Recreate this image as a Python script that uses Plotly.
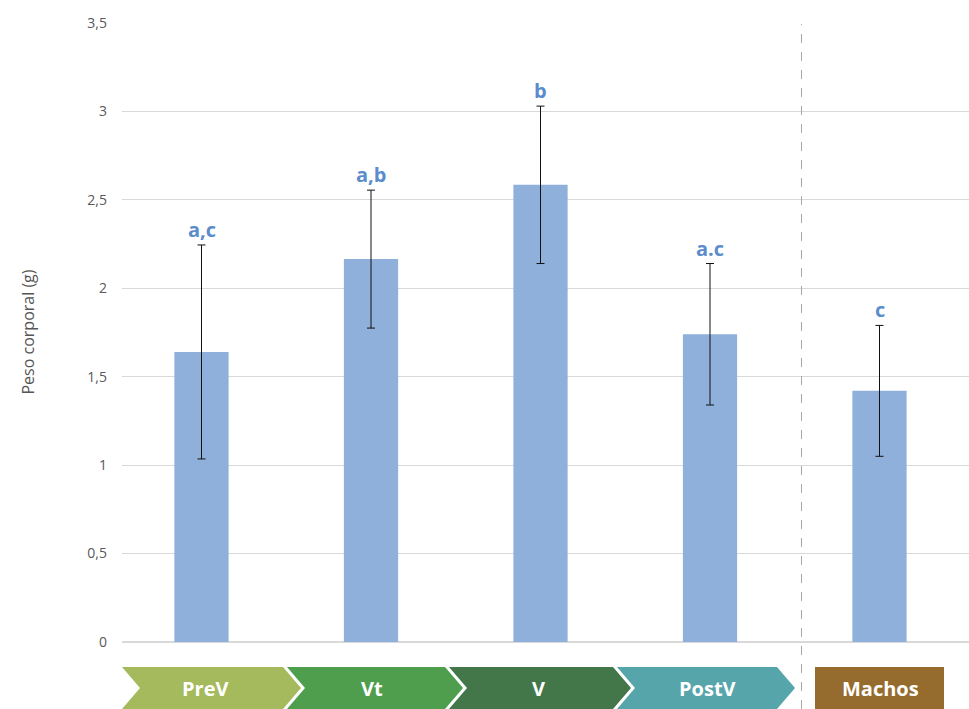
import plotly.graph_objects as go

categories = ["PreV", "Vt", "V", "PostV", "Machos"]
means = [1.64, 2.165, 2.585, 1.74, 1.42]
errors = [0.605, 0.39, 0.445, 0.40, 0.37]
letters = ["a,c", "a,b", "b", "a.c", "c"]
stage_colors = ["#A4BA5C", "#4E9E4E", "#437749", "#55A5AB", "#966C2E"]
y_ticks = [0, 0.5, 1, 1.5, 2, 2.5, 3, 3.5]

W, H = 969, 709
L, R, T, B = 122, 0, 23, 67
pw = W - L - R
ph = H - T - B

def px_x(p):
    return (p - L) / pw

def px_y(p):
    return (H - B - p) / ph

fig = go.Figure()
fig.add_trace(go.Bar(
    x=list(range(len(categories))), y=means,
    width=0.32,
    marker=dict(color="#8FB0DA", line=dict(width=0)),
    error_y=dict(type="data", array=errors, visible=True, color="#111111",
                 thickness=1, width=4),
    hoverinfo="skip", showlegend=False,
))

for i, (m, e, lt) in enumerate(zip(means, errors, letters)):
    fig.add_annotation(x=i, y=m + e, text=f"<b>{lt}</b>", showarrow=False,
                       xanchor="center", yanchor="bottom", yshift=0,
                       font=dict(family="Open Sans", size=20, color="#5B8CCB"))

# chevron band
top, bot = 667, 709
mid = (top + bot) / 2
depth = 18
chev = [(122, 283), (287, 445), (449, 613), (617, 777)]
shapes = []
for k, (x0, x1) in enumerate(chev):
    pts = [(x0, top), (x1, top), (x1 + depth, mid), (x1, bot), (x0, bot), (x0 + depth, mid)]
    path = "M " + " L ".join(f"{px_x(a):.5f},{px_y(b):.5f}" for a, b in pts) + " Z"
    shapes.append(dict(type="path", path=path, xref="paper", yref="paper",
                       fillcolor=stage_colors[k], line=dict(width=0), layer="above"))
# Machos rectangle
shapes.append(dict(type="rect", xref="paper", yref="paper",
                   x0=px_x(815), x1=px_x(944), y0=px_y(bot), y1=px_y(top),
                   fillcolor=stage_colors[4], line=dict(width=0)))
# dashed separator
shapes.append(dict(type="line", xref="x", yref="paper", x0=3.54, x1=3.54,
                   y0=px_y(709), y1=px_y(24),
                   line=dict(color="#A6A6A6", width=1, dash="dash")))
fig.update_layout(shapes=shapes)

label_px = [205, 372, 538, 707, 880]
for lab, p in zip(categories, label_px):
    fig.add_annotation(x=px_x(p), y=px_y(mid), xref="paper", yref="paper",
                       xanchor="center", yanchor="middle",
                       text=f"<b>{lab}</b>", showarrow=False,
                       font=dict(family="Open Sans", size=20, color="white"))

fig.add_annotation(x=px_x(27), y=0.5, xref="paper", yref="paper",
                   xanchor="center", yanchor="middle",
                   text="Peso corporal (g)", textangle=-90, showarrow=False,
                   font=dict(family="Open Sans", size=16, color="#555555"))

fig.update_layout(
    width=W, height=H,
    margin=dict(l=L, r=R, t=T, b=B),
    paper_bgcolor="white", plot_bgcolor="white",
    separators=",.",
    xaxis=dict(range=[(122 - 201.5) / 169.5, (969 - 201.5) / 169.5],
               showticklabels=False, showgrid=False, zeroline=False, showline=False),
    yaxis=dict(range=[0, 3.5], tickvals=y_ticks, showgrid=True,
               gridcolor="#D9D9D9", gridwidth=1, zeroline=True,
               zerolinecolor="#D9D9D9", zerolinewidth=1.5,
               ticks="", ticklabelstandoff=14,
               tickfont=dict(family="Open Sans", size=14, color="#595959")),
    font=dict(family="Open Sans"),
)

fig.write_html("out.html")
